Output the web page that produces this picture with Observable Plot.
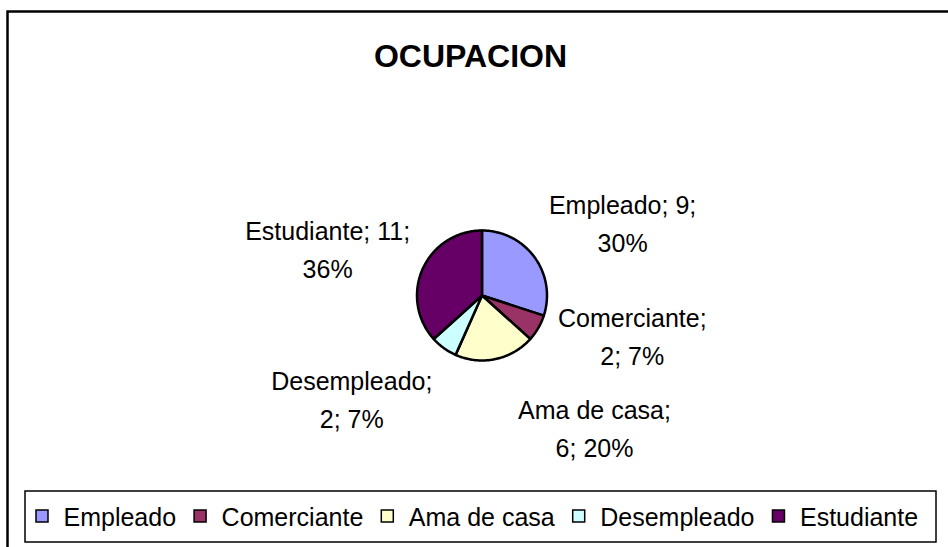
<!DOCTYPE html>
<html><head><meta charset="utf-8">
<script src="https://cdn.jsdelivr.net/npm/d3@7"></script>
<script src="https://cdn.jsdelivr.net/npm/@observablehq/plot@0.6"></script>
<style>html,body{margin:0;padding:0;background:#fff;overflow:hidden}</style>
</head><body><div id="chart"></div>
<script>
const title = "OCUPACION";
const categories = ["Empleado", "Comerciante", "Ama de casa", "Desempleado", "Estudiante"];
const counts = [9, 2, 6, 2, 11];
const percentLabels = ["30%", "7%", "20%", "7%", "36%"];
const colors = ["#9999FF", "#993366", "#FFFFCC", "#CCFFFF", "#660066"];
// where each data label wraps: after the value (true) or after the name (false)
const wrapAfterValue = [true, false, false, false, true];

const W = 948, H = 547;
const font = "'Liberation Sans', Arial, sans-serif";
const cx = 481.5, cy = 295, r = 65;
// label nudges from the slice's outer mid point (layout only)
const labelNudge = [[88, -36.5], [94, 5.5], [99, 67], [-92, 49], [-95, -22]];

const rows = categories.map((name, i) => ({name, count: counts[i], pct: percentLabels[i], i}));
const arcs = d3.pie().sort(null).value(d => d.count)(rows);

const slicePts = [];
arcs.forEach(p => {
  const n = Math.max(2, Math.ceil((p.endAngle - p.startAngle) / (Math.PI / 180)));
  slicePts.push({name: p.data.name, x: cx, y: cy});
  for (let k = 0; k <= n; k++) {
    const a = p.startAngle + (p.endAngle - p.startAngle) * k / n;
    slicePts.push({name: p.data.name, x: cx + r * Math.sin(a), y: cy - r * Math.cos(a)});
  }
  slicePts.push({name: p.data.name, x: cx, y: cy});
});

const labels = arcs.map(p => {
  const d = p.data, mid = (p.startAngle + p.endAngle) / 2;
  const text = wrapAfterValue[d.i]
    ? `${d.name}; ${d.count};\n${d.pct}`
    : `${d.name};\n${d.count}; ${d.pct}`;
  return {
    text,
    x: cx + r * Math.sin(mid) + labelNudge[d.i][0],
    y: cy - r * Math.cos(mid) + labelNudge[d.i][1]
  };
});

const ctx = document.createElement("canvas").getContext("2d");
ctx.font = "25px " + font;
let lx = 35;
const legend = categories.map(name => {
  const w = ctx.measureText(name).width;
  const item = {name, sx: lx, tx: lx + 28};
  lx += 28 + w + 17.5;
  return item;
});

const chart = Plot.plot({
  width: W, height: H, margin: 0,
  x: {domain: [0, W], range: [0, W], axis: null},
  y: {domain: [0, H], range: [0, H], axis: null},
  color: {domain: categories, range: colors},
  style: {fontFamily: font, background: "white", overflow: "hidden"},
  marks: [
    Plot.rect([0], {x1: 7.5, x2: W + 30, y1: 11.5, y2: H + 30, fill: "none", stroke: "black", strokeWidth: 2.5}),
    Plot.text([title], {x: 470, y: 56, text: d => d, fontSize: 32, fontWeight: "bold", fill: "black"}),
    Plot.line(slicePts, {x: "x", y: "y", z: "name", fill: "name", stroke: "black", strokeWidth: 2.5, strokeLinejoin: "round"}),
    Plot.text(labels, {x: "x", y: "y", text: "text", fontSize: 25, lineHeight: 1.52, textAnchor: "middle", fill: "black"}),
    Plot.rect([0], {x1: 25, x2: 936, y1: 491, y2: 542, fill: "none", stroke: "black", strokeWidth: 1.5}),
    Plot.rect(legend, {x1: d => d.sx + 1, x2: d => d.sx + 13, y1: 510, y2: 522, fill: "name", stroke: "black", strokeWidth: 1.5}),
    Plot.text(legend, {x: "tx", y: 517, text: "name", textAnchor: "start", fontSize: 25, fill: "black"})
  ]
});
document.getElementById("chart").appendChild(chart);
</script>
</body></html>
